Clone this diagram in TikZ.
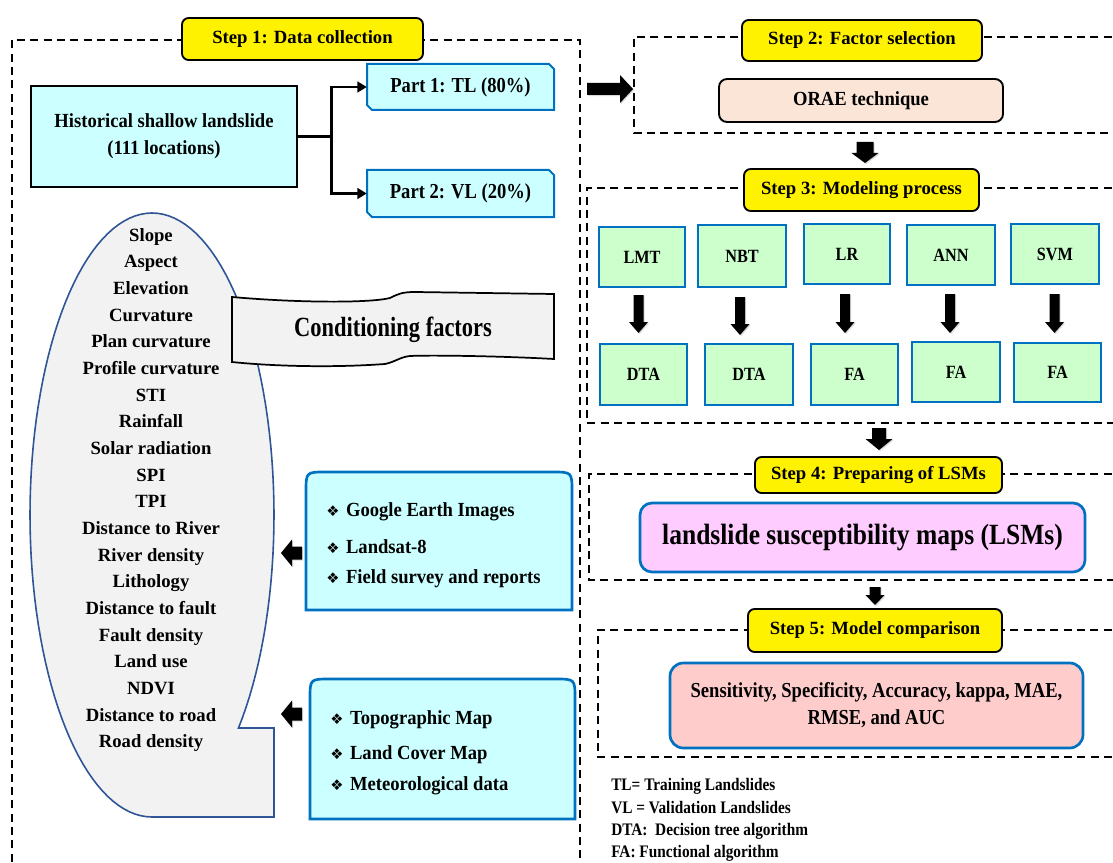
\documentclass[tikz,border=0pt]{standalone}
\usepackage{fontspec}
\setmainfont{Liberation Serif}
\newfontfamily\dejavu{DejaVu Sans}
\newfontfamily\condA[FakeStretch=0.87]{Liberation Serif}
\newfontfamily\condB[FakeStretch=0.81]{Liberation Serif}
\newfontfamily\condC[FakeStretch=0.93]{Liberation Serif}
\usetikzlibrary{arrows.meta,shadows,calc}
\definecolor{cyanfill}{HTML}{CCFFFF}
\definecolor{greenfill}{HTML}{CCFFCC}
\definecolor{bdrblue}{HTML}{0070C0}
\definecolor{oraefill}{HTML}{FBE5D6}
\definecolor{lsmfill}{HTML}{FFCCFF}
\definecolor{senfill}{HTML}{FFCCCC}
\definecolor{grayfill}{HTML}{F2F2F2}
\definecolor{ellborder}{HTML}{2F5597}
% box from corner (x1,y1) to (x2,y2) in pixel units: [style]{name}{x1}{y1}{x2}{y2}
\newcommand\bx[6][]{\node[#1,minimum width={(#5-#3)*0.75pt},minimum height={(#6-#4)*0.75pt}] (#2) at ({(#3+#5)/2},{(#4+#6)/2})}
% block arrow down: x centre, y top, y tip, shaft half, head half, head length
\newcommand\blkdown[6]{\fill[blk] ({#1-#4},#2) -- ({#1+#4},#2) -- ({#1+#4},{#3-#6}) -- ({#1+#5},{#3-#6}) -- (#1,#3) -- ({#1-#5},{#3-#6}) -- ({#1-#4},{#3-#6}) -- cycle;}
% block arrow horizontal: tail x, tip x, y centre, shaft half, head half, head base x
\newcommand\blkhoriz[6]{\fill[blk] (#1,{#3-#4}) -- (#6,{#3-#4}) -- (#6,{#3-#5}) -- (#2,#3) -- (#6,{#3+#5}) -- (#6,{#3+#4}) -- (#1,{#3+#4}) -- cycle;}
\newcommand\itm{{\dejavu\fontsize{11}{12}\selectfont ❖}\hspace{5pt}}
\tikzset{
 every node/.style={font=\bfseries\fontsize{14}{20}\selectfont, inner sep=0pt, align=center},
 dashbox/.style={draw=black, line width=1.2pt, dash pattern=on 6pt off 4pt},
 steplabel/.style={draw=black, fill=yellow, line width=1.4pt, rounded corners=5pt},
 histbox/.style={draw=black, fill=cyanfill, line width=1.3pt, font=\condC\bfseries\fontsize{15}{20.2}\selectfont},
 parttext/.style={font=\condA\bfseries\fontsize{16}{20}\selectfont},
 partshape/.style={draw=bdrblue, fill=cyanfill, line width=1.5pt},
 oraebox/.style={draw=black, fill=oraefill, line width=1.4pt, rounded corners=6pt, font=\condC\bfseries\fontsize{15}{20}\selectfont},
 modelbox/.style={draw=bdrblue, fill=greenfill, line width=2pt, font=\condA\bfseries\fontsize{14}{16}\selectfont},
 lsmbox/.style={draw=bdrblue, fill=lsmfill, line width=2pt, rounded corners=9pt, font=\condA\bfseries\fontsize{22}{26}\selectfont},
 senbox/.style={draw=bdrblue, fill=senfill, line width=2pt, rounded corners=10pt, font=\condA\bfseries\fontsize{16}{20.3}\selectfont},
 ellshape/.style={draw=ellborder, fill=grayfill, line width=1.2pt},
 bannershape/.style={draw=black, fill=grayfill, line width=1.3pt},
 infoshape/.style={draw=bdrblue, fill=cyanfill, line width=2pt},
 conn/.style={draw=black, line width=2.2pt},
 blk/.style={fill=black, drop shadow={opacity=0.3, shadow xshift=0.8pt, shadow yshift=-0.8pt}},
 itemtext/.style={anchor=west, font=\condC\bfseries\fontsize{15}{20}\selectfont},
 legendtext/.style={anchor=base west, font=\condA\bfseries\fontsize{13.2}{16}\selectfont},
}
\begin{document}
\begin{tikzpicture}[x=0.75pt,y=-0.75pt]
\useasboundingbox (0,0) rectangle (1113,863);
\clip (0,0) rectangle (1113,863);

% dashed step frames
\draw[dashbox] (12,875) -- (12,40) -- (580,40) -- (580,875);
\draw[dashbox] (1125,37) -- (634,37) -- (634,133) -- (1125,133);
\draw[dashbox] (1125,188) -- (587,188) -- (587,423) -- (1125,423);
\draw[dashbox] (1125,474) -- (589,474) -- (589,580) -- (1125,580);
\draw[dashbox] (1125,630) -- (598,630) -- (598,757) -- (1125,757);

% step labels
\bx[steplabel]{S1}{182}{18}{423}{60}{Step 1: Data collection};
\bx[steplabel]{S2}{742}{20}{982}{61}{Step 2: Factor selection};
\bx[steplabel]{S3}{744}{169}{979}{211}{Step 3: Modeling process};
\bx[steplabel]{S4}{755}{457}{1002}{493}{Step 4: Preparing of LSMs};
\bx[steplabel]{S5}{748}{609}{1002}{652}{Step 5: Model comparison};

% step 1 content
\bx[histbox]{H}{31}{86}{297}{187}{Historical shallow landslide\\(111 locations)};
\filldraw[partshape] (367,64) -- (549,64) -- (554,69) -- (554,110) -- (372,110) -- (367,105) -- cycle;
\bx[parttext]{P1}{367}{64}{554}{110}{Part 1: TL (80\%)};
\filldraw[partshape] (367,170) -- (549,170) -- (554,175) -- (554,217) -- (372,217) -- (367,212) -- cycle;
\bx[parttext]{P2}{367}{170}{554}{217}{Part 2: VL (20\%)};
\draw[conn] (H.east) -- ++(34,0) coordinate (J);
\draw[conn,-{Triangle[length=7pt,width=8pt]}] (J) |- (P1.west);
\draw[conn,-{Triangle[length=7pt,width=8pt]}] (J) |- (P2.west);

% conditioning factors shape
\filldraw[ellshape] plot[domain=270:-44.85, samples=120, variable=\t] ({152+122*cos(\t)},{515-302*sin(\t)}) -- (274,728) -- (274,817) -- cycle;
\node (F) at (151,490) {\fontsize{14}{20.05}\selectfont Slope\\Aspect\\Elevation\\Curvature\\Plan curvature\\Profile curvature\\STI\\Rainfall\\Solar radiation\\SPI\\TPI\\Distance to River\\River density\\Lithology\\Distance to fault\\Fault density\\Land use\\NDVI\\Distance to road\\Road density};
\filldraw[bannershape] (232,297) .. controls (300,303) and (370,303) .. (390,298) .. controls (398,294) and (402,292) .. (415,292) -- (554,294) -- (554,359) .. controls (500,356) and (430,355) .. (410,356) .. controls (400,357) and (395,362) .. (385,364) .. controls (330,368) and (270,366) .. (232,362) -- cycle;
\node[font=\condB\bfseries\fontsize{20.8}{24}\selectfont] (CF) at (393,330) {Conditioning factors};

% data source boxes
\filldraw[infoshape] (306,610) -- (306,492) .. controls (306,472) .. (326,472) -- (552,472) .. controls (572,472) .. (572,492) -- (572,610) -- cycle;
\node[itemtext] (i1) at (326,512) {\itm Google Earth Images};
\node[itemtext] (i2) at (326,547) {\itm Landsat-8};
\node[itemtext] (i3) at (326,579) {\itm Field survey and reports};
\filldraw[infoshape] (310,819) -- (310,699) .. controls (310,679) .. (330,679) -- (555,679) .. controls (575,679) .. (575,699) -- (575,819) -- cycle;
\node[itemtext] (j1) at (330,720) {\itm Topographic Map};
\node[itemtext] (j2) at (330,755) {\itm Land Cover Map};
\node[itemtext] (j3) at (330,786) {\itm Meteorological data};
\blkhoriz{302}{281}{553}{6.5}{13.5}{292}
\blkhoriz{302}{281}{714}{6.5}{13.5}{292}

% step 1 -> step 2
\blkhoriz{587}{633}{89}{6}{14}{620}

% step 2
\bx[oraebox]{O}{719}{79}{1003}{122}{ORAE technique};
\blkdown{865}{142}{163}{8.5}{13.5}{10}

% step 3
\bx[modelbox]{LMT}{599}{227}{685}{287}{LMT};
\bx[modelbox]{NBT}{698}{225}{786}{287}{NBT};
\bx[modelbox]{LR}{804}{224}{890}{284}{LR};
\bx[modelbox]{ANN}{907}{225}{995}{285}{ANN};
\bx[modelbox]{SVM}{1011}{224}{1099}{284}{SVM};
\bx[modelbox]{DTA1}{600}{344}{687}{405}{DTA};
\bx[modelbox]{DTA2}{705}{344}{793}{405}{DTA};
\bx[modelbox]{FA1}{811}{344}{898}{405}{FA};
\bx[modelbox]{FA2}{912}{342}{1000}{402}{FA};
\bx[modelbox]{FA3}{1014}{343}{1101}{402}{FA};
\blkdown{638.5}{295}{333}{5}{9.5}{11}
\blkdown{740}{297}{335}{5}{9.5}{11}
\blkdown{845}{294}{333}{5}{9.5}{11}
\blkdown{950}{294}{333}{5}{9.5}{11}
\blkdown{1054.5}{294}{333}{5}{9.5}{11}
\blkdown{879}{428}{450}{7}{13.5}{11}

% step 4
\bx[lsmbox]{LSM}{640}{503}{1085}{572}{landslide susceptibility maps (LSMs)};
\blkdown{875}{587}{605}{5.5}{9.5}{10}

% step 5
\bx[senbox]{SEN}{670}{663}{1083}{748}{Sensitivity, Specificity, Accuracy, kappa, MAE,\\RMSE, and AUC};

% legend
\node[legendtext] (L1) at (611,790) {TL= Training Landslides};
\node[legendtext] (L2) at (611,813) {VL = Validation Landslides};
\node[legendtext] (L3) at (611,835) {DTA:\ \ Decision tree algorithm};
\node[legendtext] (L4) at (611,857) {FA: Functional algorithm};
\end{tikzpicture}
\end{document}
